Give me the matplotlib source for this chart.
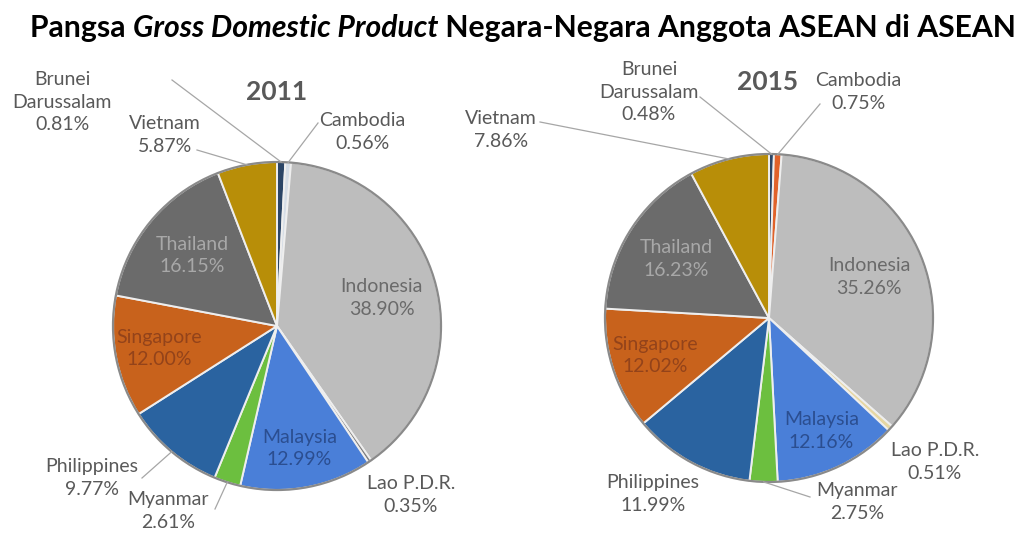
import numpy as np
import matplotlib
matplotlib.use("Agg")
import matplotlib.pyplot as plt
from matplotlib.patches import Circle

# --- data -------------------------------------------------------------
countries = ["Brunei\nDarussalam", "Cambodia", "Indonesia", "Lao P.D.R.", "Malaysia",
             "Myanmar", "Philippines", "Singapore", "Thailand", "Vietnam"]
share_2011 = [0.81, 0.56, 38.90, 0.35, 12.99, 2.61, 9.77, 12.00, 16.15, 5.87]
share_2015 = [0.48, 0.75, 35.26, 0.51, 12.16, 2.75, 11.99, 12.02, 16.23, 7.86]
years = ["2011", "2015"]
title_parts = [("Pangsa ", "normal"), ("Gross Domestic Product", "italic"),
               (" Negara-Negara Anggota ASEAN di ASEAN", "normal")]

# --- style / layout (pixel coords, y measured from the top) -------------
W, H = 1028, 536
FONT = "Lato"
colors_2011 = ["#2b4566", "#d5dde6", "#bdbdbd", "#7f7f7f", "#4a7fd8",
               "#6cbf3f", "#2a63a0", "#c8621c", "#6b6b6b", "#b88e08"]
colors_2015 = ["#2b4566", "#e0622a", "#bdbdbd", "#e6d7a3", "#4a7fd8",
               "#6cbf3f", "#2a63a0", "#c8621c", "#6b6b6b", "#b88e08"]
inside_color = {2: "#6a6a6a", 4: "#2b4e90", 7: "#93431a", 8: "#a8a8a8"}
inside_rad = {2: 0.66, 4: 0.76, 7: 0.73, 8: 0.67}

# outside labels: text centre, leader-line start (or None)
pies = [
    dict(center=(277, 326), radius=164, colors=colors_2011, year_xy=(277, 92),
         outside={0: ((62, 102), (172, 80)), 1: ((362, 132), (318, 123)),
                  3: ((411, 495), None), 5: ((168, 511), (215, 509)),
                  6: ((92, 478), (142, 478)), 9: ((165, 135), (197, 150))}),
    dict(center=(769, 318), radius=164, colors=colors_2015, year_xy=(768, 82),
         outside={0: ((649, 92), (700, 97)), 1: ((858, 92), (820, 104)),
                  3: ((935, 462), None), 5: ((857, 502), (810, 497)),
                  6: ((653, 494), None), 9: ((501, 130), (540, 122))}),
]

fig = plt.figure(figsize=(W / 100, H / 100), dpi=100)
ax = fig.add_axes([0, 0, 1, 1])

def Y(y):
    return H - y

for values, year, cfg in zip([share_2011, share_2015], years, pies):
    cx, cy = cfg["center"][0], Y(cfg["center"][1])
    r = cfg["radius"]
    wedges, _ = ax.pie(values, colors=cfg["colors"], startangle=90, counterclock=False,
                       center=(cx, cy), radius=r, normalize=True,
                       wedgeprops=dict(edgecolor="#eeeeee", linewidth=1.4))
    ax.add_patch(Circle((cx, cy), r, fill=False, edgecolor="#8a8a8a", linewidth=1.6))
    ax.text(cfg["year_xy"][0], Y(cfg["year_xy"][1]), year, ha="center", va="center",
            fontsize=19, fontweight="bold", color="#595959", family=FONT)
    for i, (name, v, w) in enumerate(zip(countries, values, wedges)):
        ang = np.radians((w.theta1 + w.theta2) / 2)
        label = f"{name}\n{v:.2f}%"
        if i in inside_rad:
            f = inside_rad[i]
            ax.text(cx + r * f * np.cos(ang), cy + r * f * np.sin(ang), label,
                    ha="center", va="center", fontsize=14, color=inside_color[i],
                    family=FONT, linespacing=1.4)
        else:
            (tx, ty), start = cfg["outside"][i]
            if start is not None:
                ex, ey = cx + r * np.cos(ang), cy + r * np.sin(ang)
                ax.plot([start[0], ex], [Y(start[1]), ey], color="#a6a6a6", linewidth=0.9)
            ax.text(tx, Y(ty), label, ha="center", va="center", fontsize=14,
                    color="#595959", family=FONT, linespacing=1.4)

ax.set_xlim(0, W)
ax.set_ylim(0, H)
ax.set_aspect("equal")
ax.axis("off")

# title with an italic part, pieces chained left to right
fig.canvas.draw()
renderer = fig.canvas.get_renderer()
x = 30
for txt, style in title_parts:
    t = ax.text(x, Y(28), txt, ha="left", va="center", fontsize=21.7, fontweight="bold",
                style=style, color="black", family=FONT)
    bb = t.get_window_extent(renderer)
    x += bb.width

fig.savefig("out.png", dpi=100, facecolor="white")
